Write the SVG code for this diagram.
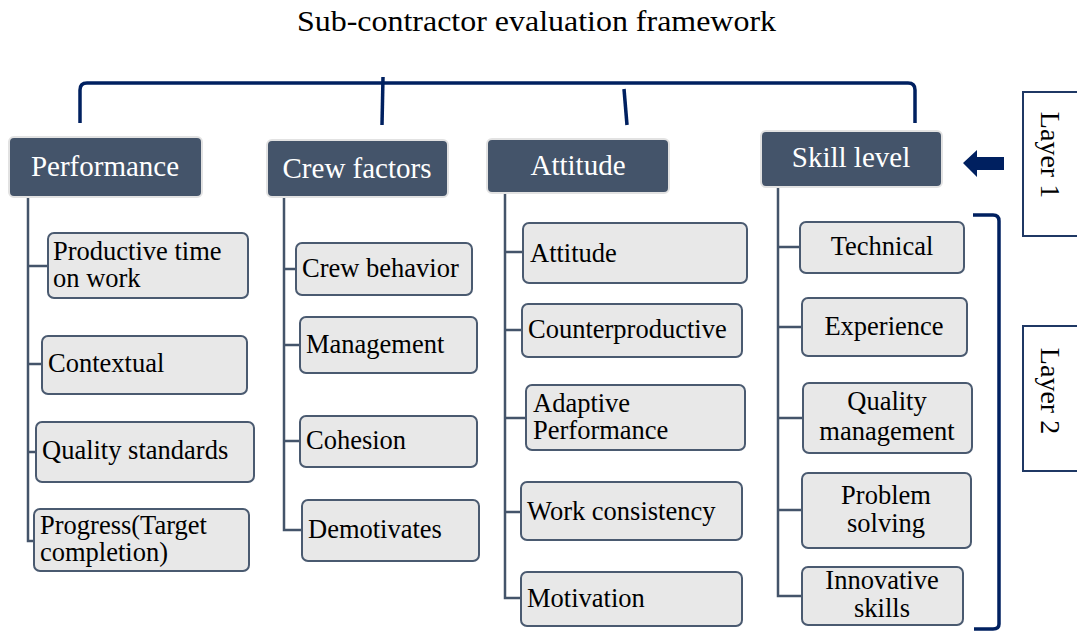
<svg xmlns="http://www.w3.org/2000/svg" width="1077" height="632" viewBox="0 0 1077 632">
<defs>
<style>
text{font-family:"Liberation Serif","Times New Roman",serif;}
.title{font-size:30px;fill:#000;}
.hdr rect{fill:#44546A;stroke:#E2E2E2;stroke-width:2;}
.hdr text{font-size:29px;fill:#fff;text-anchor:middle;}
.ch rect{fill:#E8E8E8;stroke:#4A5A70;stroke-width:2;}
.ch text{font-size:26.5px;fill:#000;}
.ch.c text{text-anchor:middle;}
.tree{fill:none;stroke:#44546A;stroke-width:2.5;}
.navy{fill:none;stroke:#002060;stroke-width:3.5;}
.layer rect{fill:#fff;stroke:#1F3864;stroke-width:2;}
.layer text{font-size:28px;fill:#000;text-anchor:middle;}
</style>
</defs>
<rect width="1077" height="632" fill="#fff"/>
<text class="title" x="536.5" y="31" text-anchor="middle" textLength="479" lengthAdjust="spacingAndGlyphs">Sub-contractor evaluation framework</text>

<g id="connectors">
<path class="navy" d="M80,123 L80,90 Q80,83 87,83 L908,83 Q915,83 915,90 L915,123"/>
<path class="navy" d="M383,77 L382,125"/>
<path class="navy" d="M624,89 L627,125"/>
<path class="navy" d="M973,215 L993,215 Q999,215 999,221 L999,624 Q999,629 993,629 L974,629"/>
<path class="tree" d="M28,197 L28,541 L34,541 M28,266 L48,266 M28,364 L42,364 M28,452 L36,452"/>
<path class="tree" d="M284,197 L284,530 L302,530 M284,269 L296,269 M284,345 L300,345 M284,441 L300,441"/>
<path class="tree" d="M505,193 L505,598 L521,598 M505,252 L523,252 M505,330 L522,330 M505,418 L526,418 M505,512 L521,512"/>
<path class="tree" d="M778,187 L778,596 L802,596 M778,247 L800,247 M778,327 L802,327 M778,418 L803,418 M778,510 L802,510"/>
<path d="M963,163 L977,150 L977,157 L1004,157 L1004,170 L977,170 L977,177 Z" fill="#002060"/>
</g>

<g id="performance" class="hdr"><rect x="9" y="137" width="193" height="60" rx="5"/><text x="105" y="176">Performance</text></g>
<g id="crew-factors" class="hdr"><rect x="267" y="140" width="181" height="57" rx="5"/><text x="357" y="178">Crew factors</text></g>
<g id="attitude" class="hdr"><rect x="487" y="139" width="182" height="54" rx="5"/><text x="578" y="175">Attitude</text></g>
<g id="skill-level" class="hdr"><rect x="761" y="131" width="181" height="56" rx="5"/><text x="851" y="167">Skill level</text></g>

<g id="productive-time" class="ch"><rect x="48" y="233" width="200" height="65" rx="6"/><text x="53" y="260">Productive time</text><text x="53" y="287">on work</text></g>
<g id="contextual" class="ch"><rect x="42" y="336" width="205" height="58" rx="6"/><text x="48" y="372">Contextual</text></g>
<g id="quality-standards" class="ch"><rect x="36" y="422" width="218" height="60" rx="6"/><text x="42" y="459">Quality standards</text></g>
<g id="progress" class="ch"><rect x="34" y="509" width="215" height="62" rx="6"/><text x="40" y="534">Progress(Target</text><text x="40" y="561">completion)</text></g>

<g id="crew-behavior" class="ch"><rect x="296" y="243" width="176" height="52" rx="6"/><text x="302" y="277">Crew behavior</text></g>
<g id="management" class="ch"><rect x="300" y="317" width="177" height="56" rx="6"/><text x="306" y="353">Management</text></g>
<g id="cohesion" class="ch"><rect x="300" y="416" width="177" height="51" rx="6"/><text x="306" y="449">Cohesion</text></g>
<g id="demotivates" class="ch"><rect x="302" y="500" width="177" height="61" rx="6"/><text x="308" y="538">Demotivates</text></g>

<g id="attitude-sub" class="ch"><rect x="523" y="223" width="224" height="60" rx="6"/><text x="530" y="262">Attitude</text></g>
<g id="counterproductive" class="ch"><rect x="522" y="304" width="220" height="53" rx="6"/><text x="528" y="338">Counterproductive</text></g>
<g id="adaptive-performance" class="ch"><rect x="526" y="385" width="219" height="65" rx="6"/><text x="533" y="412">Adaptive</text><text x="533" y="439">Performance</text></g>
<g id="work-consistency" class="ch"><rect x="521" y="482" width="221" height="58" rx="6"/><text x="527" y="520">Work consistency</text></g>
<g id="motivation" class="ch"><rect x="521" y="572" width="221" height="54" rx="6"/><text x="527" y="607">Motivation</text></g>

<g id="technical" class="ch c"><rect x="800" y="222" width="164" height="51" rx="6"/><text x="882" y="255">Technical</text></g>
<g id="experience" class="ch c"><rect x="802" y="298" width="165" height="58" rx="6"/><text x="884" y="335">Experience</text></g>
<g id="quality-management" class="ch c"><rect x="803" y="383" width="169" height="70" rx="6"/><text x="887" y="410">Quality</text><text x="887" y="440">management</text></g>
<g id="problem-solving" class="ch c"><rect x="802" y="473" width="169" height="75" rx="6"/><text x="886" y="504">Problem</text><text x="886" y="532">solving</text></g>
<g id="innovative-skills" class="ch c"><rect x="802" y="567" width="161" height="58" rx="6"/><text x="882" y="589">Innovative</text><text x="882" y="617">skills</text></g>

<g id="layer-1" class="layer"><rect x="1023" y="92" width="70" height="144"/><text transform="translate(1041,155) rotate(90)">Layer 1</text></g>
<g id="layer-2" class="layer"><rect x="1023" y="326" width="70" height="145"/><text transform="translate(1041,391) rotate(90)">Layer 2</text></g>
</svg>
